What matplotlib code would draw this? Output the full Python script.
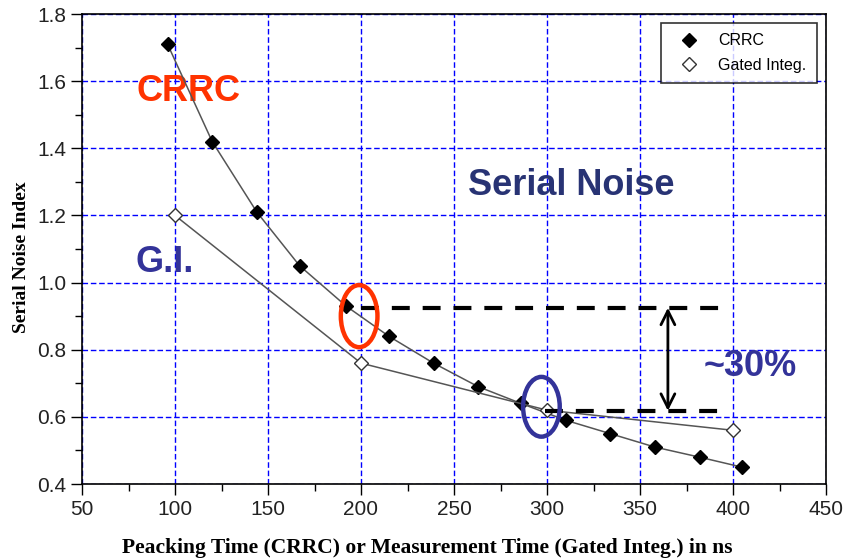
import matplotlib
matplotlib.use("Agg")
import matplotlib.pyplot as plt
from matplotlib.patches import Ellipse
from matplotlib.ticker import MultipleLocator

# ---- data ----
crrc_x = [96, 120, 144, 167, 192, 215, 239, 263, 286, 310, 334, 358, 382, 405]
crrc_y = [1.71, 1.42, 1.21, 1.05, 0.93, 0.84, 0.76, 0.69, 0.64, 0.59, 0.55, 0.51, 0.48, 0.45]
gi_x = [100, 200, 300, 400]
gi_y = [1.20, 0.76, 0.62, 0.56]
x_ticks = [50, 100, 150, 200, 250, 300, 350, 400, 450]
y_ticks = [0.4, 0.6, 0.8, 1.0, 1.2, 1.4, 1.6, 1.8]
level_hi = 0.925
level_lo = 0.618

fig = plt.figure(figsize=(8.44, 5.60), dpi=100)
ax = fig.add_axes([82/844, 1-484/560, 744/844, 470/560])

ax.set_xlim(50, 450)
ax.set_ylim(0.4, 1.8)
ax.set_xticks(x_ticks)
ax.set_yticks(y_ticks)
ax.set_xticklabels([str(v) for v in x_ticks])
ax.set_yticklabels([f"{v:.1f}" for v in y_ticks])
ax.xaxis.set_minor_locator(MultipleLocator(25))
ax.yaxis.set_minor_locator(MultipleLocator(0.1))
ax.tick_params(which='major', direction='out', length=8, width=1, color='black',
               labelsize=15, labelcolor='#222222')
ax.tick_params(which='minor', direction='out', length=5, width=1, color='black')
for lab in ax.get_xticklabels() + ax.get_yticklabels():
    lab.set_fontfamily('Liberation Sans')

ax.grid(True, which='major', color='#0000FF', linestyle=(0, (4, 2)), linewidth=1)
for s in ax.spines.values():
    s.set_color('black')
    s.set_linewidth(1.2)

ax.plot(crrc_x, crrc_y, color='#555555', linewidth=1.1, marker='D', markersize=7.5,
        markerfacecolor='black', markeredgecolor='black', label='CRRC', zorder=4)
ax.plot(gi_x, gi_y, color='#555555', linewidth=1.1, marker='D', markersize=7.5,
        markerfacecolor='white', markeredgecolor='#333333', markeredgewidth=1,
        label='Gated Integ.', zorder=4)

leg = ax.legend(loc='upper right', bbox_to_anchor=(0.9875, 0.981), borderaxespad=0,
                frameon=True, fancybox=False, edgecolor='black',
                prop={'family': 'Liberation Sans', 'size': 11.5},
                borderpad=0.65, labelspacing=0.6, handlelength=2.2,
                handletextpad=0.7)
leg.get_frame().set_linewidth(1.2)
for h in leg.legend_handles:
    h.set_linestyle('None')
leg.set_zorder(7)

# annotations
ax.plot([200, 396], [level_hi, level_hi], color='black', linewidth=3,
        linestyle=(0, (4.3, 3.1)), zorder=5)
ax.plot([299, 396], [level_lo, level_lo], color='black', linewidth=3,
        linestyle=(0, (4.3, 3.1)), zorder=5)
ax.annotate('', xy=(365, level_hi), xytext=(365, level_lo),
            arrowprops=dict(arrowstyle='<->', color='black', lw=2,
                            mutation_scale=25, shrinkA=0, shrinkB=0), zorder=6)
ax.add_patch(Ellipse((199, 0.90), 19.7, 0.185, fill=False, edgecolor='#FF3300',
                     linewidth=3.2, zorder=6))
ax.add_patch(Ellipse((297, 0.630), 19.7, 0.178, fill=False, edgecolor='#333399',
                     linewidth=3.2, zorder=6))

bold = dict(fontfamily='Liberation Sans', fontweight='bold', fontsize=26,
            ha='left', va='center')
ax.text(79.5, 1.568, 'CRRC', color='#FF3300', **bold)
ax.text(78.5, 1.061, 'G.I.', color='#333399', **bold)
ax.text(257.5, 1.29, 'Serial Noise', color='#283374', **bold)
ax.text(384, 0.749, '~30%', color='#333399', **bold)

ax.set_xlabel('Peacking Time (CRRC) or Measurement Time (Gated Integ.) in ns',
              fontfamily='Liberation Serif', fontweight='bold', fontsize=15.5,
              labelpad=14)
ax.xaxis.label.set_x(0.4637)
ax.set_ylabel('Serial Noise Index', fontfamily='Liberation Serif',
              fontweight='bold', fontsize=14, labelpad=5)
ax.yaxis.label.set_y(0.483)

fig.savefig('out.png', dpi=100)
